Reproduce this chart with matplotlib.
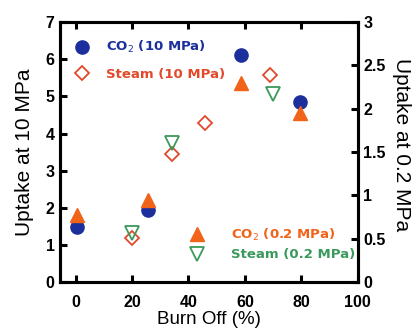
import matplotlib
matplotlib.use('Agg')
import matplotlib.pyplot as plt

plt.rcParams['font.family'] = ['Liberation Sans', 'DejaVu Sans']

# burn off (%) and uptake values
co2_hi_x = [0.5, 25.5, 58.5, 79.5]
co2_hi_y = [1.47, 1.93, 6.11, 4.85]
steam_hi_x = [20, 34, 46, 69]
steam_hi_y = [1.18, 3.46, 4.29, 5.58]

co2_lo_x = [0.5, 25.5, 58.5, 79.5]
co2_lo_y = [0.77, 0.95, 2.30, 1.95]
steam_lo_x = [20, 34, 70]
steam_lo_y = [0.57, 1.61, 2.17]

blue = '#1d2f9c'
red = '#e2492b'
orange = '#f2631a'
green = '#3b9a5b'

fig = plt.figure(figsize=(4.2, 3.35), dpi=100)
ax = fig.add_axes([0.143, 0.158, 0.709, 0.776])
ax2 = ax.twinx()

h1, = ax.plot(co2_hi_x, co2_hi_y, 'o', ms=9.5, color=blue, mec=blue,
              linestyle='none', label='CO$_2$ (10 MPa)')
h2, = ax.plot(steam_hi_x, steam_hi_y, 'D', ms=7.5, mfc='none', mec=red,
              mew=1.3, linestyle='none', label='Steam (10 MPa)')
h3, = ax2.plot(co2_lo_x, co2_lo_y, '^', ms=10, color=orange,
               linestyle='none', label='CO$_2$ (0.2 MPa)')
h4, = ax2.plot(steam_lo_x, steam_lo_y, 'v', ms=10, mfc='none', mec=green,
               mew=1.3, linestyle='none', label='Steam (0.2 MPa)')

ax.set_xlim(-5.5, 100)
ax.set_ylim(0, 7)
ax2.set_ylim(0, 3)
ax.set_xticks([0, 20, 40, 60, 80, 100])
ax.set_yticks(range(8))
ax2.set_yticks([0, 0.5, 1, 1.5, 2, 2.5, 3])
ax2.set_yticklabels(['0', '0.5', '1', '1.5', '2', '2.5', '3'])

for a in (ax, ax2):
    for s in a.spines.values():
        s.set_linewidth(2.2)
    a.tick_params(direction='in', length=5, width=2.2, labelsize=11.5, pad=4)
    for lab in a.get_xticklabels() + a.get_yticklabels():
        lab.set_fontweight('bold')
ax.tick_params(top=True)
ax.tick_params(axis='x', pad=9)

ax.set_xlabel('Burn Off (%)', fontsize=13.5, labelpad=1)
ax.set_ylabel('Uptake at 10 MPa', fontsize=15, labelpad=8)
ax2.set_ylabel('Uptake at 0.2 MPa', fontsize=15, rotation=270, labelpad=17)
ax2.yaxis.set_label_coords(1.18, 0.53)

leg_font = {'family': 'DejaVu Sans', 'weight': 'bold', 'size': 9.5}
leg1 = ax.legend(handles=[h1, h2], loc='upper left',
                 bbox_to_anchor=(0.0, 0.98), frameon=False,
                 prop=leg_font, handletextpad=1.1,
                 labelspacing=0.95, handlelength=1.5,
                 labelcolor=[blue, red])
leg2 = ax2.legend(handles=[h3, h4], loc='lower right',
                  bbox_to_anchor=(1.0, 0.07), frameon=False,
                  prop=leg_font, handletextpad=1.8,
                  borderaxespad=0.1, borderpad=0.1, labelspacing=0.4,
                  handlelength=1.5, labelcolor=[orange, green])

fig.savefig('out.png', dpi=100)
